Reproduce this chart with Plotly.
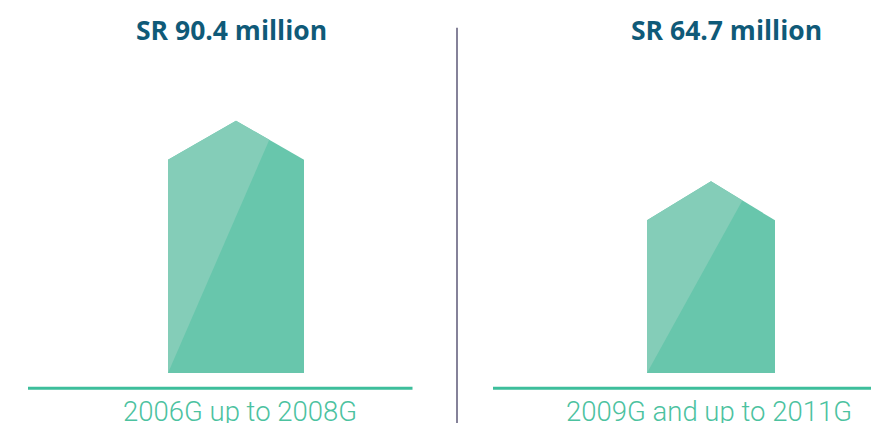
import plotly.graph_objects as go

# ---- data ----
periods = ["2006G up to 2008G", "2009G and up to 2011G"]
values = [90.4, 64.7]            # SR million
titles = ["SR 90.4 million", "SR 64.7 million"]

# ---- layout constants (pixels, reference coordinates) ----
W, H = 871, 423
PX_PER_UNIT = 2.36
BASE_PX = 373
centers = [236, 711]
half_w = [68, 64]
roof_units = 39 / PX_PER_UNIT
title_x = [231.5, 726.5]
label_x = [240, 708.5]

DARK = "#68c6ac"
LIGHT = "#84cdb8"
LINE = "#3dbe9b"
TEXT_G = "#4cc29f"
TITLE_C = "#0f5a78"

fig = go.Figure()
for c, hw, v in zip(centers, half_w, values):
    sh = v
    apex = v + roof_units
    fig.add_trace(go.Scatter(
        x=[c - hw, c - hw, c, c + hw, c + hw, c - hw],
        y=[0, sh, apex, sh, 0, 0],
        fill="toself", fillcolor=DARK, mode="lines", line=dict(width=0),
        hoverinfo="skip", showlegend=False))
    f = 0.49
    fig.add_trace(go.Scatter(
        x=[c - hw, c - hw, c, c + f * hw, c - hw],
        y=[0, sh, apex, apex - f * (apex - sh), 0],
        fill="toself", fillcolor=LIGHT, mode="lines", line=dict(width=0),
        hoverinfo="skip", showlegend=False))

def py(p):
    return 1 - p / H

def pxp(p):
    return p / W

shapes = [
    dict(type="line", xref="paper", yref="paper", x0=pxp(28), x1=pxp(412.5), y0=py(388.3), y1=py(388.3),
         line=dict(color=LINE, width=3)),
    dict(type="line", xref="paper", yref="paper", x0=pxp(493), x1=1.0, y0=py(388.3), y1=py(388.3),
         line=dict(color=LINE, width=3)),
    dict(type="line", xref="paper", yref="paper", x0=pxp(457), x1=pxp(457), y0=py(27.7), y1=0,
         line=dict(color="#858299", width=2)),
]

annotations = []
for tx, t in zip(title_x, titles):
    annotations.append(dict(x=tx, y=py(30), xref="x", yref="paper", text="<b>" + t + "</b>",
                            showarrow=False, xanchor="center", yanchor="middle",
                            font=dict(family="Open Sans", size=26.5, color=TITLE_C)))
for lx, t in zip(label_x, periods):
    annotations.append(dict(x=lx, y=py(411), xref="x", yref="paper", text=t,
                            showarrow=False, xanchor="center", yanchor="middle",
                            font=dict(family="Roboto", size=27.5, color=TEXT_G, weight=300)))

fig.update_layout(
    width=W, height=H, margin=dict(l=0, r=0, t=0, b=0),
    paper_bgcolor="white", plot_bgcolor="white",
    xaxis=dict(range=[0, W], visible=False, fixedrange=True),
    yaxis=dict(range=[-(H - BASE_PX) / PX_PER_UNIT, BASE_PX / PX_PER_UNIT],
               visible=False, fixedrange=True),
    shapes=shapes, annotations=annotations,
)
fig.write_html("out.html",
               config={"displayModeBar": False},
               post_script="document.body.style.margin='0';"
                           "document.body.style.overflow='hidden';"
                           "document.documentElement.style.overflow='hidden';")
